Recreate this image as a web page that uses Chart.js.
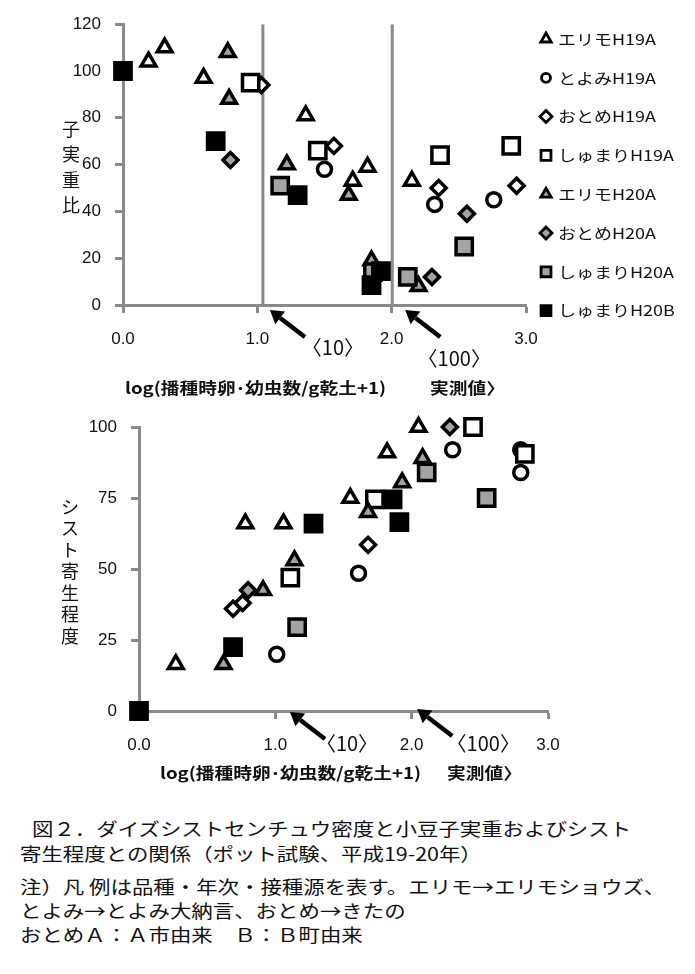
<!DOCTYPE html>
<html lang="ja">
<head>
<meta charset="utf-8">
<title>図２ ダイズシストセンチュウ密度と小豆子実重およびシスト寄生程度</title>
<script src="https://cdn.jsdelivr.net/npm/chart.js@4.4.0/dist/chart.umd.min.js"></script>
<style>
  body { margin: 0; background: #fff; width: 695px; height: 974px; position: relative; overflow: hidden;
         font-family: "Noto Sans CJK JP", sans-serif; color: #111; }
  canvas { position: absolute; left: 0; }
  #yieldChart { top: 0; }
  #cystChart { top: 400px; }
  .cap { position: absolute; font-size: 18px; line-height: 24px; white-space: nowrap;
         transform: scaleX(1.19); transform-origin: left top; }
</style>
</head>
<body>
<canvas id="yieldChart" width="695" height="400"></canvas>
<canvas id="cystChart" width="695" height="400"></canvas>

<div class="cap" style="left:32px; top:816px;">図２．ダイズシストセンチュウ密度と小豆子実重およびシスト</div>
<div class="cap" style="left:20px; top:841px;">寄生程度との関係（ポット試験、平成19-20年）</div>
<div class="cap" style="left:20px; top:874px;">注）凡 例は品種・年次・接種源を表す。エリモ→エリモショウズ、</div>
<div class="cap" style="left:20px; top:898px;">とよみ→とよみ大納言、おとめ→きたの</div>
<div class="cap" style="left:20px; top:922px;">おとめＡ：Ａ市由来　Ｂ：Ｂ町由来</div>

<script>
// series (legend order)
const seriesNames = ['エリモH19A', 'とよみH19A', 'おとめH19A', 'しゅまりH19A',
                     'エリモH20A', 'おとめH20A', 'しゅまりH20A', 'しゅまりH20B'];

// upper chart: [log(eggs+larvae/g soil +1), 子実重比]
const yieldErimoH19A   = [[0.19, 104], [0.31, 110], [0.60, 97], [1.36, 81], [1.71, 53], [1.82, 59], [2.15, 53]];
const yieldToyomiH19A  = [[1.50, 58], [2.32, 43], [2.76, 45]];
const yieldOtomeH19A   = [[1.03, 94], [1.57, 68], [2.35, 50], [2.93, 51]];
const yieldShumariH19A = [[0.95, 95], [1.45, 66], [2.36, 64], [2.89, 68]];
const yieldErimoH20A   = [[0.78, 108], [0.79, 88], [1.22, 60], [1.68, 47], [1.85, 19], [2.20, 8]];
const yieldOtomeH20A   = [[0.80, 62], [2.30, 12], [2.56, 39]];
const yieldShumariH20A = [[1.17, 51], [1.86, 14], [2.12, 12], [2.54, 25]];
const yieldShumariH20B = [[0, 100], [0.69, 70], [1.30, 47], [1.85, 8.5], [1.92, 14.5]];

// lower chart: [log(eggs+larvae/g soil +1), シスト寄生程度]
const cystErimoH19A   = [[0.27, 16.5], [0.78, 66], [1.06, 66], [1.55, 75], [1.82, 91], [2.05, 100]];
const cystToyomiH19A  = [[1.01, 20], [1.61, 48.5], [2.30, 92], [2.80, 84], [2.80, 92]];
const cystOtomeH19A   = [[0.69, 36], [0.76, 38], [1.68, 58.5]];
const cystShumariH19A = [[1.11, 47], [1.73, 74.5], [2.45, 100], [2.83, 90.5]];
const cystErimoH20A   = [[0.62, 16.5], [0.91, 42.5], [1.14, 53], [1.68, 70], [1.93, 80.5], [2.08, 89]];
const cystOtomeH20A   = [[0.80, 42.5], [2.28, 100]];
const cystShumariH20A = [[1.16, 29.5], [2.11, 84], [2.55, 75]];
const cystShumariH20B = [[0, 0], [0.69, 22.5], [1.28, 66], [1.86, 74.5], [1.91, 66.5]];

// measured densities marked on the axis (eggs+larvae/g)
const markedDensities = [10, 100];
const xTicks = [0, 1, 2, 3];
const yieldTicks = [0, 20, 40, 60, 80, 100, 120];
const cystTicks = [0, 25, 50, 75, 100];

const GRAY_AXIS = '#8a8a8a';
const FILL_GRAY = '#a3a3a3';
const TICK_FAMILY = '"Liberation Sans", Arial, sans-serif';
const markerStyle = [
  { shape: 'triangle', fill: '#fff', r: 8.5 },
  { shape: 'circle',   fill: '#fff', r: 7 },
  { shape: 'rectRot',  fill: '#fff', r: 7.5 },
  { shape: 'rect',     fill: '#fff', r: 11.5 },
  { shape: 'triangle', fill: FILL_GRAY, r: 8.5 },
  { shape: 'rectRot',  fill: FILL_GRAY, r: 7.5 },
  { shape: 'rect',     fill: FILL_GRAY, r: 11.5 },
  { shape: 'rect',     fill: '#000', r: 11.5 }
];

const toXY = pts => pts.map(p => ({ x: p[0], y: p[1] }));

function seriesDatasets(groups) {
  return groups.map((pts, i) => ({
    label: seriesNames[i],
    data: toXY(pts),
    pointStyle: markerStyle[i].shape,
    pointRadius: markerStyle[i].r,
    pointHoverRadius: markerStyle[i].r,
    pointBorderWidth: 3.5,
    pointBackgroundColor: markerStyle[i].fill,
    pointBorderColor: '#000',
    backgroundColor: markerStyle[i].fill,
    borderColor: '#000',
    clip: false,
    order: 8 - i
  }));
}

// small text helper, with optional horizontal stretch like the original
function text(ctx, str, x, y, font, align, sx) {
  ctx.save();
  ctx.font = font;
  ctx.textAlign = align || 'left';
  ctx.textBaseline = 'middle';
  ctx.translate(x, y);
  ctx.scale(sx || 1, 1);
  ctx.fillText(str, 0, 0);
  ctx.restore();
}

function arrow(ctx, hx, hy, tx, ty) {
  const ang = Math.atan2(hy - ty, hx - tx);
  const len = 13, half = 8;
  const bx = hx - Math.cos(ang) * len, by = hy - Math.sin(ang) * len;
  ctx.beginPath();
  ctx.moveTo(tx, ty);
  ctx.lineTo(bx, by);
  ctx.lineWidth = 4.5;
  ctx.strokeStyle = '#000';
  ctx.stroke();
  ctx.beginPath();
  ctx.moveTo(hx, hy);
  ctx.lineTo(bx + Math.sin(ang) * half, by - Math.cos(ang) * half);
  ctx.lineTo(bx - Math.sin(ang) * half, by + Math.cos(ang) * half);
  ctx.closePath();
  ctx.fillStyle = '#000';
  ctx.fill();
}

const extras = {
  id: 'extras',
  afterDraw(chart, args, o) {
    const ctx = chart.ctx, xs = chart.scales.x, ys = chart.scales.y;
    ctx.save();
    ctx.fillStyle = '#111';

    // vertical axis title, one character per row
    Array.from(o.yTitle.text).forEach((ch, i) =>
      text(ctx, ch, o.yTitle.x, o.yTitle.y + i * o.yTitle.step, '18px "Noto Sans CJK JP"', 'center'));

    // x axis title
    o.xTitle.forEach(t => text(ctx, t.str, t.x, t.y, 'bold 16px "Noto Sans CJK JP"', 'left', 1.17));

    // arrows pointing at 10 and 100 individuals
    const y0 = ys.getPixelForValue(0);
    o.marks.forEach(m => {
      const px = xs.getPixelForValue(Math.log10(m.density + 1));
      const hx = px + m.hx, hy = y0 + m.hy;
      arrow(ctx, hx, hy, hx + 35, hy + 27);
      ctx.fillStyle = '#111';
      text(ctx, '〈' + m.density + '〉', px + m.lx, y0 + m.ly, '20px "Noto Sans CJK JP"', 'center');
    });

    // legend
    if (o.legend) {
      const draw = Chart.helpers && Chart.helpers.drawPoint;
      chart.data.datasets.forEach((ds, i) => {
        if (i >= seriesNames.length) return;
        const y = o.legend.y + i * o.legend.step;
        ctx.fillStyle = markerStyle[i].fill;
        ctx.strokeStyle = '#000';
        ctx.lineWidth = 2.8;
        const r = markerStyle[i].shape === 'rect' ? 7 : markerStyle[i].shape === 'circle' ? 4.5 : 6;
        if (draw) draw(ctx, { pointStyle: markerStyle[i].shape, radius: r, borderWidth: 2.8, rotation: 0 }, o.legend.x, y);
        ctx.fillStyle = '#111';
        text(ctx, ds.label, o.legend.x + 12, y, '15px "Noto Sans CJK JP"', 'left', 1.2);
      });
    }
    ctx.restore();
  }
};

function axes(yMax, yTickList, yWidth, xHeight) {
  const tickFont = { family: TICK_FAMILY, size: 17 };
  return {
    x: {
      type: 'linear', min: 0, max: 3,
      afterBuildTicks: s => { s.ticks = xTicks.map(v => ({ value: v })); },
      ticks: { callback: v => v.toFixed(1), font: tickFont, color: '#111', padding: 16, maxRotation: 0 },
      grid: { drawOnChartArea: false, drawTicks: true, tickLength: 8, tickColor: GRAY_AXIS, tickWidth: 3 },
      border: { display: true, color: GRAY_AXIS, width: 3 },
      afterFit: s => { s.height = xHeight; }
    },
    y: {
      type: 'linear', min: 0, max: yMax,
      afterBuildTicks: s => { s.ticks = yTickList.map(v => ({ value: v })); },
      ticks: { font: tickFont, color: '#111', padding: 14 },
      grid: { drawOnChartArea: false, drawTicks: true, tickLength: 8, tickColor: GRAY_AXIS, tickWidth: 3 },
      border: { display: true, color: GRAY_AXIS, width: 3 },
      afterFit: s => { s.width = yWidth; }
    }
  };
}

const refLines = markedDensities.map(d => ({
  data: [{ x: Math.log10(d + 1), y: 0 }, { x: Math.log10(d + 1), y: 120 }],
  showLine: true, pointRadius: 0, borderColor: GRAY_AXIS, borderWidth: 3, order: 20
}));

function build() {
  new Chart(document.getElementById('yieldChart'), {
    type: 'scatter',
    data: {
      datasets: seriesDatasets([yieldErimoH19A, yieldToyomiH19A, yieldOtomeH19A, yieldShumariH19A,
                                yieldErimoH20A, yieldOtomeH20A, yieldShumariH20A, yieldShumariH20B]).concat(refLines)
    },
    options: {
      responsive: false, animation: false, events: [],
      layout: { padding: { left: 0, right: 169, top: 17, bottom: 0 } },
      scales: axes(120, yieldTicks, 123, 95),
      plugins: {
        legend: { display: false }, tooltip: { enabled: false },
        extras: {
          yTitle: { text: '子実重比', x: 71, y: 129, step: 25.5 },
          xTitle: [{ str: 'log(播種時卵･幼虫数/g乾土+1)', x: 125, y: 388 }, { str: '実測値〉', x: 430, y: 388 }],
          marks: [{ density: 10, hx: 7, hy: 5, lx: 70, ly: 42 }, { density: 100, hx: 13, hy: 5, lx: 62, ly: 53 }],
          legend: { x: 546, y: 39, step: 38.8 }
        }
      }
    },
    plugins: [extras]
  });

  new Chart(document.getElementById('cystChart'), {
    type: 'scatter',
    data: {
      datasets: seriesDatasets([cystErimoH19A, cystToyomiH19A, cystOtomeH19A, cystShumariH19A,
                                cystErimoH20A, cystOtomeH20A, cystShumariH20A, cystShumariH20B])
    },
    options: {
      responsive: false, animation: false, events: [],
      layout: { padding: { left: 0, right: 147, top: 27, bottom: 0 } },
      scales: axes(100, cystTicks, 139, 89),
      plugins: {
        legend: { display: false }, tooltip: { enabled: false },
        extras: {
          yTitle: { text: 'シスト寄生程度', x: 70, y: 107, step: 21.5 },
          xTitle: [{ str: 'log(播種時卵･幼虫数/g乾土+1)', x: 160, y: 373 }, { str: '実測値〉', x: 447, y: 373 }],
          marks: [{ density: 10, hx: 9, hy: 1, lx: 66, ly: 32 }, { density: 100, hx: 5, hy: -2, lx: 71, ly: 32 }]
        }
      }
    },
    plugins: [extras]
  });
}

// make sure the system fonts are resolved before the canvases are painted
Promise.all([
  document.fonts.load('17px "Liberation Sans"'),
  document.fonts.load('18px "Noto Sans CJK JP"', '子'),
  document.fonts.load('bold 16px "Noto Sans CJK JP"', '子')
]).catch(() => {}).then(build);
</script>
</body>
</html>
